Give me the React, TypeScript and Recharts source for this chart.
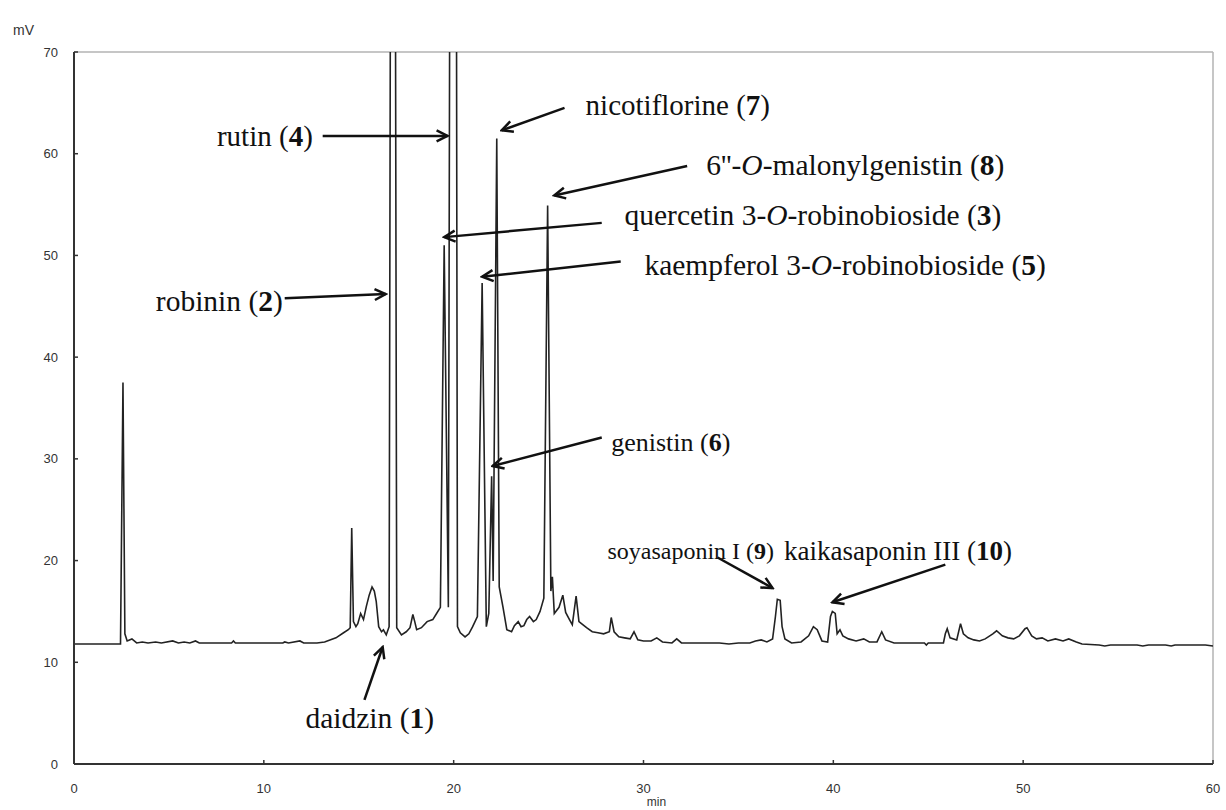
import { Line, LineChart, ReferenceDot, ReferenceLine, XAxis, YAxis } from 'recharts'

// [retention time (min), detector signal (mV)]
const earlyTrace: [number, number][] = [
  [0, 11.8], [2.45, 11.8], [2.58, 37.5], [2.68, 12.8], [2.8, 12.1],
  [3.05, 12.3], [3.3, 11.9], [3.6, 12.0], [3.9, 11.9], [4.3, 12.0],
  [4.6, 11.9], [5.2, 12.1], [5.5, 11.9], [5.8, 12.0], [6.1, 11.9],
  [6.4, 12.1], [6.6, 11.9], [8.3, 11.9], [8.4, 12.1], [8.5, 11.9],
  [11.0, 11.9], [11.1, 12.0], [11.3, 11.9], [11.9, 12.1], [12.1, 11.9],
  [12.8, 11.9], [13.2, 12.0], [13.8, 12.4], [14.2, 12.9], [14.45, 13.2],
]

const flavonoidTrace: [number, number][] = [
  [14.55, 13.4], [14.63, 23.2], [14.72, 14.0], [14.85, 13.5], [14.95, 13.8],
  [15.1, 14.8], [15.25, 14.2], [15.4, 15.5], [15.55, 16.6], [15.7, 17.4],
  [15.82, 17.0], [15.92, 16.0], [16.05, 13.5], [16.2, 13.0], [16.3, 13.2],
  [16.45, 12.7], [16.6, 13.5], [16.8, 200], [17.0, 13.4], [17.25, 12.7],
  [17.5, 13.0], [17.7, 13.4], [17.85, 14.7], [17.95, 14.0], [18.05, 13.2],
  [18.3, 13.4], [18.6, 14.0], [18.9, 14.2], [19.1, 14.8], [19.3, 15.4],
  [19.5, 51.0], [19.72, 15.4], [20.0, 250], [20.2, 13.5], [20.35, 12.9],
  [20.6, 12.5], [20.8, 12.8], [21.0, 13.5], [21.25, 14.5], [21.5, 47.3],
  [21.72, 13.5], [21.85, 14.8], [22.0, 28.3], [22.08, 18.0], [22.27, 61.5],
  [22.4, 17.4], [22.6, 15.4], [22.8, 13.2], [23.05, 13.0], [23.2, 13.6],
  [23.4, 14.0], [23.55, 13.5], [23.7, 13.6], [23.85, 14.2], [24.0, 14.5],
  [24.2, 14.0], [24.35, 14.2], [24.55, 15.0], [24.75, 16.3], [24.95, 54.9],
  [25.12, 17.0], [25.2, 18.4], [25.3, 14.8], [25.55, 15.4], [25.75, 16.6],
  [25.9, 14.9], [26.1, 14.2], [26.25, 13.7], [26.45, 16.5], [26.6, 14.0],
  [26.8, 13.7], [27.0, 13.4], [27.3, 13.0], [27.6, 12.9], [27.9, 12.8],
  [28.2, 13.0], [28.3, 14.4], [28.45, 13.0], [28.7, 12.5], [29.0, 12.4],
  [29.3, 12.3], [29.5, 13.0], [29.7, 12.2], [30.0, 12.1], [30.4, 12.1],
  [30.7, 12.4], [31.0, 12.0], [31.5, 11.9], [31.75, 12.3],
]

const saponinTrace: [number, number][] = [
  [32.0, 11.9], [34.0, 11.9], [34.5, 11.8], [35.0, 11.9], [35.6, 11.9],
  [35.9, 12.1], [36.2, 12.2], [36.5, 12.0], [36.8, 12.3], [36.95, 14.5],
  [37.05, 16.2], [37.2, 16.1], [37.3, 13.5], [37.45, 12.3], [37.8, 11.9],
  [38.3, 12.0], [38.7, 12.6], [38.95, 13.5], [39.15, 13.2], [39.4, 12.1],
  [39.7, 12.0], [39.85, 14.5], [39.95, 15.0], [40.1, 14.8], [40.2, 12.8],
  [40.35, 13.2], [40.5, 12.6], [40.8, 12.3], [41.2, 12.1], [41.6, 12.3],
  [41.9, 12.0], [42.3, 12.0], [42.55, 13.0], [42.75, 12.2], [43.2, 11.9],
  [44.8, 11.9], [44.9, 11.7], [45.0, 11.9], [45.8, 11.9], [45.9, 12.8],
  [46.0, 13.3], [46.15, 12.4], [46.5, 12.2], [46.7, 13.8], [46.85, 12.8],
  [47.1, 12.4], [47.4, 12.2], [47.7, 12.1], [48.0, 12.3], [48.4, 12.8],
  [48.6, 13.1], [48.9, 12.6], [49.2, 12.4], [49.5, 12.3], [49.8, 12.6],
  [50.1, 13.3], [50.2, 13.4], [50.45, 12.6], [50.7, 12.3], [51.0, 12.4],
  [51.3, 12.1], [51.7, 12.3], [52.1, 12.1], [52.4, 12.3], [52.8, 12.0],
  [53.1, 11.8], [54.0, 11.7], [54.3, 11.6], [54.6, 11.7], [56.0, 11.7],
  [56.3, 11.6], [56.6, 11.7], [57.5, 11.7], [57.8, 11.6], [58.0, 11.7],
  [59.6, 11.7], [60.0, 11.6],
]

const timeTicks = [0, 10, 20, 30, 40, 50, 60]
const signalTicks = [0, 10, 20, 30, 40, 50, 60, 70]

type Part = { text: string; bold?: boolean; italic?: boolean }

// compound names, placed in data units (min, mV)
const peakLabels: { id: string; x: number; y: number; anchor: 'start' | 'middle' | 'end'; size: number; parts: Part[] }[] = [
  { id: 'rutin', x: 12.58, y: 61.75, anchor: 'end', size: 29, parts: [{ text: 'rutin (' }, { text: '4', bold: true }, { text: ')' }] },
  { id: 'robinin', x: 11.0, y: 45.6, anchor: 'end', size: 29.5, parts: [{ text: 'robinin (' }, { text: '2', bold: true }, { text: ')' }] },
  { id: 'nicotiflorine', x: 26.95, y: 64.8, anchor: 'start', size: 29, parts: [{ text: 'nicotiflorine (' }, { text: '7', bold: true }, { text: ')' }] },
  {
    id: 'malonylgenistin', x: 33.3, y: 58.9, anchor: 'start', size: 29.5,
    parts: [{ text: "6''-" }, { text: 'O', italic: true }, { text: '-malonylgenistin (' }, { text: '8', bold: true }, { text: ')' }],
  },
  {
    id: 'quercetin', x: 29.0, y: 54.0, anchor: 'start', size: 29.5,
    parts: [{ text: 'quercetin 3-' }, { text: 'O', italic: true }, { text: '-robinobioside (' }, { text: '3', bold: true }, { text: ')' }],
  },
  {
    id: 'kaempferol', x: 30.05, y: 49.1, anchor: 'start', size: 29.5,
    parts: [{ text: 'kaempferol 3-' }, { text: 'O', italic: true }, { text: '-robinobioside (' }, { text: '5', bold: true }, { text: ')' }],
  },
  { id: 'genistin', x: 28.3, y: 31.7, anchor: 'start', size: 26, parts: [{ text: 'genistin (' }, { text: '6', bold: true }, { text: ')' }] },
  { id: 'daidzin', x: 15.58, y: 4.6, anchor: 'middle', size: 29.5, parts: [{ text: 'daidzin (' }, { text: '1', bold: true }, { text: ')' }] },
  { id: 'soyasaponin', x: 28.1, y: 21.0, anchor: 'start', size: 24, parts: [{ text: 'soyasaponin I (' }, { text: '9', bold: true }, { text: ')' }] },
  { id: 'kaikasaponin', x: 37.4, y: 21.0, anchor: 'start', size: 27, parts: [{ text: 'kaikasaponin III (' }, { text: '10', bold: true }, { text: ')' }] },
]

const peakArrows: { id: string; from: [number, number]; to: [number, number] }[] = [
  { id: 'rutin', from: [13.1, 61.75], to: [19.68, 61.75] },
  { id: 'robinin', from: [11.1, 45.8], to: [16.42, 46.2] },
  { id: 'nicotiflorine', from: [25.84, 64.5], to: [22.53, 62.3] },
  { id: 'malonylgenistin', from: [32.3, 58.8], to: [25.3, 55.9] },
  { id: 'quercetin', from: [27.8, 53.2], to: [19.5, 51.8] },
  { id: 'kaempferol', from: [28.8, 49.4], to: [21.5, 47.9] },
  { id: 'genistin', from: [27.8, 32.1], to: [22.05, 29.3] },
  { id: 'daidzin', from: [15.3, 6.3], to: [16.26, 11.5] },
  { id: 'soyasaponin', from: [33.9, 20.3], to: [36.8, 17.3] },
  { id: 'kaikasaponin', from: [45.9, 19.6], to: [39.95, 15.9] },
]

const trace = [...earlyTrace, ...flavonoidTrace, ...saponinTrace].map(([t, mV]) => ({ t, mV }))

const sans = "'Liberation Sans', Arial, sans-serif"
const serif = "'Liberation Serif', 'Times New Roman', serif"

function labelContent(parts: Part[], anchor: string, size: number) {
  return (props: any) => {
    const vb = props.viewBox || {}
    return (
      <text x={vb.x} y={vb.y} dy="0.35em" textAnchor={anchor} fontFamily={serif} fontSize={size} fill="#111">
        {parts.map((p, i) => (
          <tspan key={i} fontWeight={p.bold ? 'bold' : 'normal'} fontStyle={p.italic ? 'italic' : 'normal'}>
            {p.text}
          </tspan>
        ))}
      </text>
    )
  }
}

export default function App() {
  return (
    <div style={{ position: 'absolute', left: 0, top: 0, width: 1226, height: 810, background: '#fff' }}>
      <svg width={0} height={0} style={{ position: 'absolute' }}>
        <defs>
          <marker
            id="arrowHead"
            viewBox="0 0 14 14"
            refX={12}
            refY={7}
            markerWidth={14}
            markerHeight={14}
            markerUnits="userSpaceOnUse"
            orient="auto"
          >
            <path d="M1,1.5 L12,7 L1,12.5" fill="none" stroke="#111" strokeWidth={2.5} />
          </marker>
        </defs>
      </svg>

      <LineChart width={1226} height={810} data={trace} margin={{ top: 52, right: 13, bottom: 16, left: 0 }}>
        <XAxis
          dataKey="t"
          type="number"
          domain={[0, 60]}
          ticks={timeTicks}
          allowDataOverflow
          height={30}
          tickSize={-4}
          tickMargin={24}
          axisLine={{ stroke: '#333', strokeWidth: 2 }}
          tickLine={{ stroke: '#333', strokeWidth: 1.5 }}
          tick={{ fill: '#333', fontSize: 13, fontFamily: sans }}
          label={{
            content: (props: any) => {
              const vb = props.viewBox || {}
              return (
                <text x={vb.x + vb.width / 2 + 13} y={vb.y + 42} textAnchor="middle" fontFamily={sans} fontSize={12} fill="#333">
                  min
                </text>
              )
            },
          }}
        />
        <YAxis
          type="number"
          domain={[0, 70]}
          ticks={signalTicks}
          allowDataOverflow
          width={74}
          tickSize={-4}
          tickMargin={20}
          axisLine={{ stroke: '#333', strokeWidth: 2 }}
          tickLine={{ stroke: '#333', strokeWidth: 1.5 }}
          tick={{ fill: '#333', fontSize: 13, fontFamily: sans }}
          label={{
            content: (props: any) => {
              const vb = props.viewBox || {}
              return (
                <text x={vb.x + 13} y={vb.y - 22} dy="0.35em" fontFamily={sans} fontSize={14} fill="#333">
                  mV
                </text>
              )
            },
          }}
        />

        <ReferenceLine y={70} stroke="#b3b3b3" strokeWidth={1.5} />
        <ReferenceLine x={60} stroke="#b3b3b3" strokeWidth={1.5} />

        <Line
          type="linear"
          dataKey="mV"
          stroke="#222"
          strokeWidth={1.6}
          dot={false}
          activeDot={false}
          isAnimationActive={false}
        />

        {peakArrows.map((a) => (
          <ReferenceLine
            key={a.id}
            segment={[
              { x: a.from[0], y: a.from[1] },
              { x: a.to[0], y: a.to[1] },
            ]}
            stroke="#111"
            strokeWidth={2.5}
            markerEnd="url(#arrowHead)"
          />
        ))}

        {peakLabels.map((l) => (
          <ReferenceDot
            key={l.id}
            x={l.x}
            y={l.y}
            r={0}
            fill="none"
            stroke="none"
            label={{ content: labelContent(l.parts, l.anchor, l.size) }}
          />
        ))}
      </LineChart>
    </div>
  )
}
